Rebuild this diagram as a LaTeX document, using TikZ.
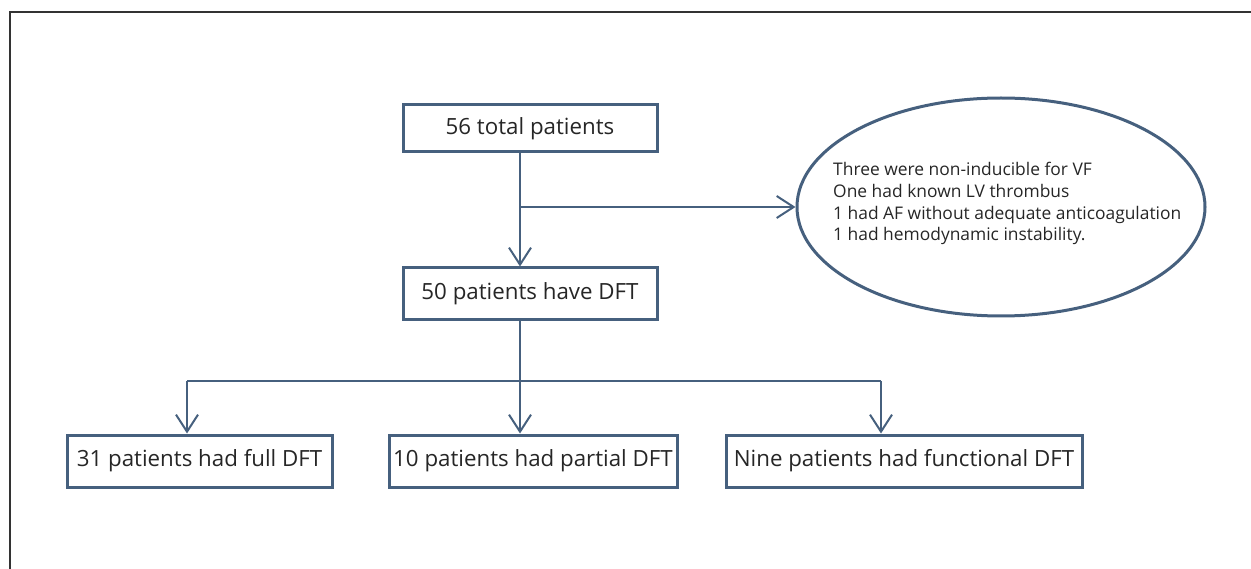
\documentclass[tikz,border=0pt]{standalone}
\usepackage{fontspec}
\setmainfont{Open Sans}
\usetikzlibrary{arrows.meta,shapes.geometric}
\definecolor{lc}{HTML}{46607E}
\definecolor{tc}{HTML}{262626}
\begin{document}
\begin{tikzpicture}[x=1pt,y=-1pt,
  box/.style={draw=lc,line width=3pt,inner sep=0pt,fill=white,
    font=\fontsize{22.3}{26}\selectfont,text=tc},
  line/.style={draw=lc,line width=2pt},
  conn/.style={line,-{Straight Barb[length=17pt,width=22pt,line width=2pt]}}]
\useasboundingbox (0,0) rectangle (1251,569);
\draw[line width=1.5pt,black!80] (10,569) -- (10,12) -- (1251,12);
\node[box,minimum width=254pt,minimum height=47pt] (b1) at (530,128.5) {56 total patients};
\node[box,minimum width=254pt,minimum height=52pt] (b2) at (530,294) {50 patients have DFT};
\node[ellipse,draw=lc,line width=3pt,minimum width=408pt,minimum height=218pt,inner sep=0pt] (el) at (1001,207) {};
\node[anchor=north west,align=left,inner sep=0pt,text=tc,
  font=\fontsize{17.4}{21.8}\selectfont] (txt) at (833,162) {Three were non-inducible for VF\\One had known LV thrombus\\1 had AF without adequate anticoagulation\\1 had hemodynamic instability.};
\node[box,minimum width=265pt,minimum height=52pt] (b3) at (199.5,461) {31 patients had full DFT};
\node[box,minimum width=288pt,minimum height=52pt] (b4) at (533,461) {10 patients had partial DFT};
\node[box,minimum width=356pt,minimum height=52pt] (b5) at (904,461) {Nine patients had functional DFT};
\coordinate (j1) at (520,207);
\coordinate (j2) at (520,381);
\coordinate (l) at (187,381);
\coordinate (r) at (881,381);
\draw[conn] (b1.south -| j1) -- (b2.north -| j1);
\draw[conn] (j1) -- (j1 -| el.west);
\draw[conn] (b2.south -| j2) -- (b4.north -| j2);
\draw[line] (l) -- (r);
\draw[conn] (l) -- (l |- b3.north);
\draw[conn] (r) -- (r |- b5.north);
\end{tikzpicture}
\end{document}
